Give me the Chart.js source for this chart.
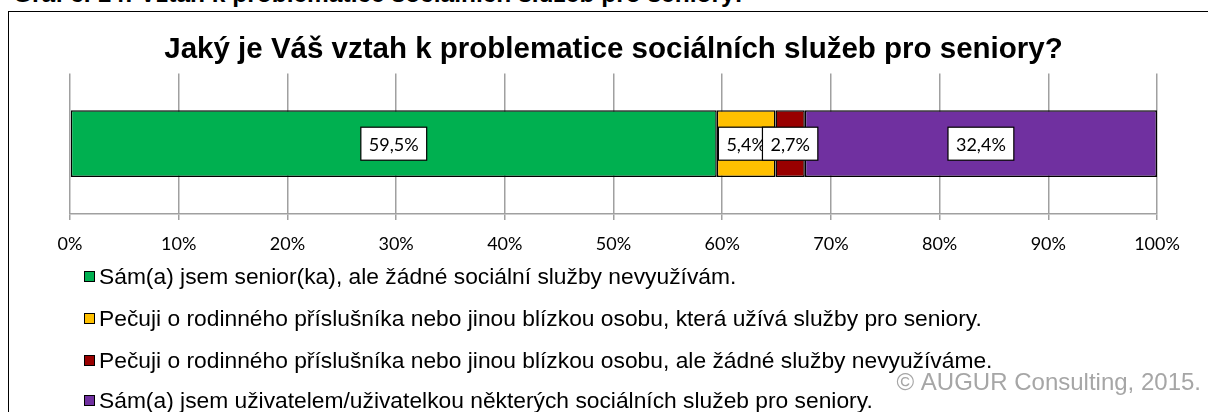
<!DOCTYPE html>
<html>
<head>
<meta charset="utf-8">
<script src="https://cdn.jsdelivr.net/npm/chart.js@4.4.1/dist/chart.umd.min.js"></script>
<style>
html,body{margin:0;padding:0;background:#fff;overflow:hidden;}
#wrap{position:relative;width:1208px;height:412px;overflow:hidden;}
#caption{position:absolute;left:13px;top:-20px;font-family:"Liberation Sans",Arial,sans-serif;font-size:24.5px;font-weight:bold;color:#000;white-space:nowrap;}
#frame{position:absolute;left:8px;top:11px;width:1300px;height:500px;border-left:1.5px solid #000;border-top:1.5px solid #000;}
canvas{position:absolute;left:0;top:0;}
</style>
</head>
<body>
<div id="wrap">
<div id="caption">Graf č. 14: Vztah k problematice sociálních služeb pro seniory:</div>
<div id="frame"></div>
<canvas id="c" width="1208" height="412"></canvas>
</div>
<script>
const title = "Jaký je Váš vztah k problematice sociálních služeb pro seniory?";
const categories = [""];
const seriesNames = [
  "Sám(a) jsem senior(ka), ale žádné sociální služby nevyužívám.",
  "Pečuji o rodinného příslušníka nebo jinou blízkou osobu, která užívá služby pro seniory.",
  "Pečuji o rodinného příslušníka nebo jinou blízkou osobu, ale žádné služby nevyužíváme.",
  "Sám(a) jsem uživatelem/uživatelkou některých sociálních služeb pro seniory."
];
const seriesValues = [59.5, 5.4, 2.7, 32.4];
const seriesLabels = ["59,5%", "5,4%", "2,7%", "32,4%"];
const seriesColors = ["#00B050", "#FFC000", "#990000", "#7030A0"];
const tickLabels = ["0%","10%","20%","30%","40%","50%","60%","70%","80%","90%","100%"];
const copyright = "© AUGUR Consulting, 2015.";

const datasets = seriesNames.map((n, i) => ({
  label: n,
  data: [seriesValues[i]],
  backgroundColor: seriesColors[i],
  borderColor: "#000",
  borderWidth: 1.5,
  borderSkipped: false
}));

const labelPlugin = {
  id: "boxLabels",
  afterDatasetsDraw(chart) {
    const ctx = chart.ctx;
    ctx.save();
    ctx.font = "18px Lato";
    ctx.textAlign = "center";
    ctx.textBaseline = "middle";
    chart.data.datasets.forEach((ds, i) => {
      const el = chart.getDatasetMeta(i).data[0];
      const cx = (el.x + el.base) / 2;
      const cy = el.y;
      const t = seriesLabels[i];
      const w = ctx.measureText(t).width + 16;
      const h = 33;
      ctx.fillStyle = "#fff";
      ctx.fillRect(cx - w/2, cy - h/2, w, h);
      ctx.strokeStyle = "#000";
      ctx.lineWidth = 1.2;
      ctx.strokeRect(cx - w/2, cy - h/2, w, h);
      ctx.fillStyle = "#000";
      ctx.fillText(t, cx, cy + 1);
    });
    ctx.restore();
  }
};

const legendPlugin = {
  id: "manualLegend",
  afterDraw(chart) {
    const ctx = chart.ctx;
    ctx.save();
    const rows = [277, 319, 361, 401];
    ctx.font = "22.8px 'Liberation Sans'";
    ctx.textBaseline = "middle";
    ctx.textAlign = "left";
    seriesNames.forEach((n, i) => {
      const y = rows[i];
      ctx.fillStyle = seriesColors[i];
      ctx.fillRect(84, y - 6, 11, 11);
      ctx.strokeStyle = "#000";
      ctx.lineWidth = 1;
      ctx.strokeRect(84.5, y - 5.5, 10, 10);
      ctx.fillStyle = "#000";
      ctx.fillText(n, 99, y + 1);
    });
    ctx.font = "24px 'Liberation Sans'";
    ctx.fillStyle = "#A6A6A6";
    ctx.textAlign = "right";
    ctx.fillText(copyright, 1201, 383);
    ctx.restore();
  }
};

new Chart(document.getElementById("c"), {
  type: "bar",
  data: { labels: categories, datasets },
  options: {
    indexAxis: "y",
    responsive: false,
    animation: false,
    layout: { padding: { left: 70, right: 51, top: 0, bottom: 158 } },
    plugins: {
      legend: { display: false },
      tooltip: { enabled: false },
      title: {
        display: true,
        text: title,
        color: "#000",
        font: { family: "'Liberation Sans'", size: 29.5, weight: "bold" },
        padding: { top: 32, bottom: 6 }
      }
    },
    scales: {
      x: {
        stacked: true,
        min: 0, max: 100,
        afterFit: (s) => { s.height = 40; },
        ticks: {
          stepSize: 10,
          color: "#000",
          padding: 13,
          font: { family: "Lato", size: 18 },
          callback: (v, i) => tickLabels[i]
        },
        grid: { color: "#A0A0A0", lineWidth: 1.5, tickLength: 6, drawOnChartArea: true },
        border: { display: true, color: "#A0A0A0", width: 1.5 }
      },
      y: {
        stacked: true,
        display: false
      }
    },
    datasets: { bar: { categoryPercentage: 1, barPercentage: 0.475 } }
  },
  plugins: [labelPlugin, legendPlugin]
});
</script>
</body>
</html>
